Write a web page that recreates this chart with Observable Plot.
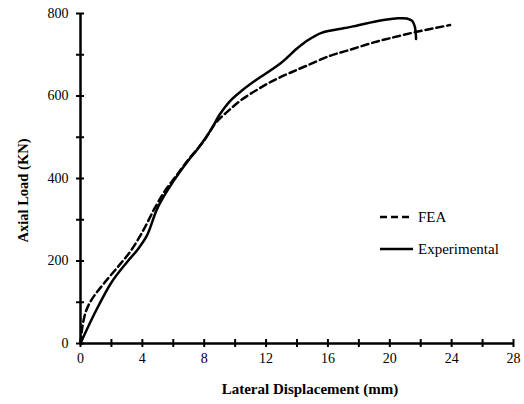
<!DOCTYPE html>
<html>
<head>
<meta charset="utf-8">
<script src="https://cdn.jsdelivr.net/npm/d3@7"></script>
<script src="https://cdn.jsdelivr.net/npm/@observablehq/plot@0.6"></script>
<style>
  body { margin: 0; background: #fff; }
  #wrap { position: relative; width: 524px; height: 404px; font-family: 'Liberation Serif', 'Times New Roman', serif; }
  #wrap svg text { font-family: 'Liberation Serif', 'Times New Roman', serif; }
  #legend { position: absolute; left: 380px; top: 207px; font-size: 15px; color: #000; }
  .row { display: flex; align-items: center; height: 20px; margin-bottom: 12px; }
  .row svg { margin-right: 4px; }
</style>
</head>
<body>
<div id="wrap"></div>
<script>
const xTicks = [0,2,4,6,8,10,12,14,16,18,20,22,24,26,28];
const xLabels = [0,4,8,12,16,20,24,28];
const yTicks = [0,100,200,300,400,500,600,700,800];
const yLabels = [0,200,400,600,800];
const xTitle = "Lateral Displacement (mm)";
const yTitle = "Axial Load (KN)";
const seriesNames = ["FEA", "Experimental"];

const feaX = [0, 0.12, 0.35, 0.75, 1.5, 2.4, 3.2, 4.0, 4.8, 5.5, 6.2, 7.0, 8.0, 8.7, 9.5, 10.35, 11.5, 12.5, 13.6, 14.66, 16.17, 17.25, 18.97, 20.0, 21.67, 23.9];
const feaY = [0, 40, 78, 108, 145, 185, 222, 270, 328, 372, 407, 447, 492, 533, 562, 589, 617, 638, 657, 674, 698, 710, 730, 740, 755, 772];

const expX = [0, 0.9, 2.0, 3.0, 3.7, 4.3, 5.0, 6.0, 7.0, 7.5, 8.4, 9.0, 9.7, 10.5, 11.4, 12.9, 14.0, 14.7, 15.5, 16.2, 17.0, 17.9, 19.4, 20.4, 21.1, 21.45, 21.62, 21.7];
const expY = [0, 72, 148, 197, 228, 262, 330, 393, 445, 468, 516, 555, 589, 615, 640, 678, 715, 735, 752, 759, 764, 771, 783, 788, 788, 782, 768, 738];

const fea = feaX.map((x, i) => ({x, y: feaY[i]}));
const exp = expX.map((x, i) => ({x, y: expY[i]}));

const W = 524, H = 404, mL = 80, mR = 11, mT = 13, mB = 61;
const innerW = W - mL - mR, innerH = H - mT - mB;
const serif = "'Liberation Serif', 'Times New Roman', serif";

const chart = Plot.plot({
  width: W, height: H,
  marginLeft: mL, marginRight: mR, marginTop: mT, marginBottom: mB,
  style: { fontFamily: serif, fontSize: "14px", color: "#000", background: "#fff" },
  x: { domain: [0, 28] },
  y: { domain: [0, 800] },
  marks: [
    Plot.line(fea, { x: "x", y: "y", stroke: "#000", strokeWidth: 2.5, strokeDasharray: "7,4", curve: "catmull-rom" }),
    Plot.line(exp, { x: "x", y: "y", stroke: "#000", strokeWidth: 2.5, curve: "catmull-rom" }),
    Plot.ruleY([0], { stroke: "#000", strokeWidth: 2.5 }),
    Plot.ruleX([0], { stroke: "#000", strokeWidth: 2.5 }),
    Plot.ruleX(xTicks, { x: d => d, insetTop: innerH - 4, insetBottom: -4, stroke: "#000", strokeWidth: 2 }),
    Plot.ruleY(yTicks, { y: d => d, insetLeft: -4, insetRight: innerW - 4, stroke: "#000", strokeWidth: 2 }),
    Plot.axisX({ ticks: xLabels, tickSize: 0, tickPadding: 10, label: null, fontSize: 14 }),
    Plot.axisY({ ticks: yLabels, tickSize: 0, tickPadding: 12, label: null, fontSize: 14 }),
    Plot.text([xTitle], { text: d => d, frameAnchor: "bottom", textAnchor: "middle", dx: 13, dy: 50, fontWeight: "bold", fontSize: 15 }),
    Plot.text([yTitle], { text: d => d, frameAnchor: "left", textAnchor: "middle", rotate: -90, dx: -57, dy: 12, fontWeight: "bold", fontSize: 14.5 })
  ]
});
const wrap = document.getElementById("wrap");
wrap.appendChild(chart);

const legend = document.createElement("div");
legend.id = "legend";
const dashes = ["7,4", null];
seriesNames.forEach((name, i) => {
  const row = document.createElement("div");
  row.className = "row";
  const svg = d3.create("svg").attr("width", 34).attr("height", 6);
  const ln = svg.append("line").attr("x1", 0).attr("x2", 33).attr("y1", 3).attr("y2", 3)
    .attr("stroke", "#000").attr("stroke-width", 2.5);
  if (dashes[i]) ln.attr("stroke-dasharray", dashes[i]);
  row.appendChild(svg.node());
  const span = document.createElement("span");
  span.textContent = name;
  row.appendChild(span);
  legend.appendChild(row);
});
wrap.appendChild(legend);
</script>
</body>
</html>
